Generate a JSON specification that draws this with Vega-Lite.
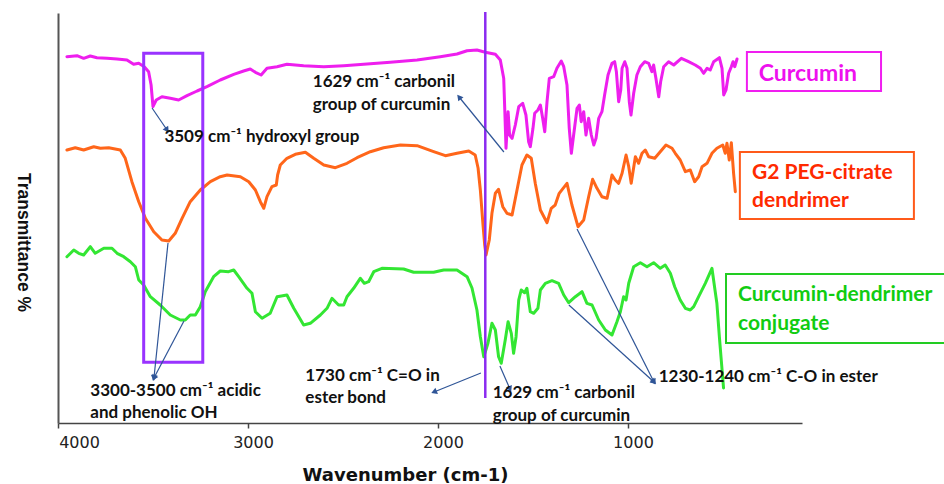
{
  "$schema": "https://vega.github.io/schema/vega-lite/v6.json",
  "autosize": {"type": "none"},
  "padding": {"left": 58, "top": 13, "right": 142, "bottom": 61},
  "width": 744,
  "height": 410,
  "background": "white",
  "config": {"view": {"stroke": null}},
  "datasets": {
    "spectra": [
      {"series": "Curcumin", "x": 3953, "y": 366.3}, {"series": "Curcumin", "x": 3900, "y": 367.3}, {"series": "Curcumin", "x": 3865, "y": 364.7}, {"series": "Curcumin", "x": 3830, "y": 367}, {"series": "Curcumin", "x": 3795, "y": 365.3}, {"series": "Curcumin", "x": 3742, "y": 364.7}, {"series": "Curcumin", "x": 3689, "y": 364}, {"series": "Curcumin", "x": 3637, "y": 363}, {"series": "Curcumin", "x": 3602, "y": 358.7}, {"series": "Curcumin", "x": 3575, "y": 359.7}, {"series": "Curcumin", "x": 3546, "y": 356.3}, {"series": "Curcumin", "x": 3523, "y": 351.3}, {"series": "Curcumin", "x": 3510, "y": 338}, {"series": "Curcumin", "x": 3500, "y": 316.3}, {"series": "Curcumin", "x": 3483, "y": 323}, {"series": "Curcumin", "x": 3453, "y": 326.3}, {"series": "Curcumin", "x": 3409, "y": 324.7}, {"series": "Curcumin", "x": 3365, "y": 323}, {"series": "Curcumin", "x": 3321, "y": 327.3}, {"series": "Curcumin", "x": 3268, "y": 332}, {"series": "Curcumin", "x": 3216, "y": 336.3}, {"series": "Curcumin", "x": 3146, "y": 343}, {"series": "Curcumin", "x": 3075, "y": 348.7}, {"series": "Curcumin", "x": 3023, "y": 352}, {"series": "Curcumin", "x": 2988, "y": 354}, {"series": "Curcumin", "x": 2961, "y": 350.7}, {"series": "Curcumin", "x": 2931, "y": 348}, {"series": "Curcumin", "x": 2900, "y": 354.7}, {"series": "Curcumin", "x": 2847, "y": 356.3}, {"series": "Curcumin", "x": 2795, "y": 358.7}, {"series": "Curcumin", "x": 2707, "y": 357.3}, {"series": "Curcumin", "x": 2601, "y": 356.3}, {"series": "Curcumin", "x": 2496, "y": 357.3}, {"series": "Curcumin", "x": 2391, "y": 358.7}, {"series": "Curcumin", "x": 2251, "y": 360.7}, {"series": "Curcumin", "x": 2110, "y": 363}, {"series": "Curcumin", "x": 1988, "y": 366.3}, {"series": "Curcumin", "x": 1900, "y": 369}, {"series": "Curcumin", "x": 1847, "y": 372.3}, {"series": "Curcumin", "x": 1795, "y": 373}, {"series": "Curcumin", "x": 1751, "y": 370.7}, {"series": "Curcumin", "x": 1698, "y": 368.7}, {"series": "Curcumin", "x": 1672, "y": 363}, {"series": "Curcumin", "x": 1654, "y": 344.7}, {"series": "Curcumin", "x": 1647, "y": 304.7}, {"series": "Curcumin", "x": 1642, "y": 274.7}, {"series": "Curcumin", "x": 1631, "y": 311.3}, {"series": "Curcumin", "x": 1623, "y": 288}, {"series": "Curcumin", "x": 1610, "y": 284.7}, {"series": "Curcumin", "x": 1593, "y": 298}, {"series": "Curcumin", "x": 1575, "y": 316.3}, {"series": "Curcumin", "x": 1554, "y": 319.7}, {"series": "Curcumin", "x": 1537, "y": 308}, {"series": "Curcumin", "x": 1523, "y": 281.3}, {"series": "Curcumin", "x": 1514, "y": 276.3}, {"series": "Curcumin", "x": 1500, "y": 294.7}, {"series": "Curcumin", "x": 1491, "y": 309.7}, {"series": "Curcumin", "x": 1474, "y": 313}, {"series": "Curcumin", "x": 1461, "y": 318}, {"series": "Curcumin", "x": 1449, "y": 304.7}, {"series": "Curcumin", "x": 1438, "y": 291.3}, {"series": "Curcumin", "x": 1426, "y": 321.3}, {"series": "Curcumin", "x": 1414, "y": 344.7}, {"series": "Curcumin", "x": 1391, "y": 346.3}, {"series": "Curcumin", "x": 1374, "y": 354.7}, {"series": "Curcumin", "x": 1351, "y": 362}, {"series": "Curcumin", "x": 1338, "y": 356.3}, {"series": "Curcumin", "x": 1321, "y": 338}, {"series": "Curcumin", "x": 1309, "y": 294.7}, {"series": "Curcumin", "x": 1298, "y": 269.7}, {"series": "Curcumin", "x": 1286, "y": 288}, {"series": "Curcumin", "x": 1268, "y": 314.7}, {"series": "Curcumin", "x": 1256, "y": 318}, {"series": "Curcumin", "x": 1246, "y": 301.3}, {"series": "Curcumin", "x": 1233, "y": 311.3}, {"series": "Curcumin", "x": 1221, "y": 288}, {"series": "Curcumin", "x": 1207, "y": 304.7}, {"series": "Curcumin", "x": 1193, "y": 288}, {"series": "Curcumin", "x": 1180, "y": 278}, {"series": "Curcumin", "x": 1168, "y": 284.7}, {"series": "Curcumin", "x": 1154, "y": 304.7}, {"series": "Curcumin", "x": 1137, "y": 311.3}, {"series": "Curcumin", "x": 1123, "y": 328}, {"series": "Curcumin", "x": 1105, "y": 348}, {"series": "Curcumin", "x": 1084, "y": 359.7}, {"series": "Curcumin", "x": 1070, "y": 361.3}, {"series": "Curcumin", "x": 1061, "y": 351.3}, {"series": "Curcumin", "x": 1049, "y": 321.3}, {"series": "Curcumin", "x": 1038, "y": 333}, {"series": "Curcumin", "x": 1031, "y": 354.7}, {"series": "Curcumin", "x": 1017, "y": 361.3}, {"series": "Curcumin", "x": 1005, "y": 354.7}, {"series": "Curcumin", "x": 993, "y": 321.3}, {"series": "Curcumin", "x": 984, "y": 308}, {"series": "Curcumin", "x": 970, "y": 329.7}, {"series": "Curcumin", "x": 953, "y": 348}, {"series": "Curcumin", "x": 935, "y": 356.3}, {"series": "Curcumin", "x": 912, "y": 361.3}, {"series": "Curcumin", "x": 891, "y": 359.7}, {"series": "Curcumin", "x": 874, "y": 351.3}, {"series": "Curcumin", "x": 865, "y": 358}, {"series": "Curcumin", "x": 853, "y": 344.7}, {"series": "Curcumin", "x": 838, "y": 326.3}, {"series": "Curcumin", "x": 828, "y": 341.3}, {"series": "Curcumin", "x": 812, "y": 356.3}, {"series": "Curcumin", "x": 786, "y": 361.3}, {"series": "Curcumin", "x": 759, "y": 358}, {"series": "Curcumin", "x": 719, "y": 364.7}, {"series": "Curcumin", "x": 681, "y": 361.3}, {"series": "Curcumin", "x": 646, "y": 358}, {"series": "Curcumin", "x": 619, "y": 354.7}, {"series": "Curcumin", "x": 602, "y": 349.7}, {"series": "Curcumin", "x": 584, "y": 354.7}, {"series": "Curcumin", "x": 567, "y": 353}, {"series": "Curcumin", "x": 549, "y": 361.3}, {"series": "Curcumin", "x": 519, "y": 365.3}, {"series": "Curcumin", "x": 505, "y": 354.7}, {"series": "Curcumin", "x": 496, "y": 328}, {"series": "Curcumin", "x": 484, "y": 333}, {"series": "Curcumin", "x": 470, "y": 349.7}, {"series": "Curcumin", "x": 456, "y": 356.3}, {"series": "Curcumin", "x": 447, "y": 361.3}, {"series": "Curcumin", "x": 438, "y": 356.3}, {"series": "Curcumin", "x": 426, "y": 364},
      {"series": "G2", "x": 3953, "y": 273}, {"series": "G2", "x": 3909, "y": 275.3}, {"series": "G2", "x": 3865, "y": 273}, {"series": "G2", "x": 3812, "y": 276.3}, {"series": "G2", "x": 3777, "y": 274.7}, {"series": "G2", "x": 3733, "y": 275.3}, {"series": "G2", "x": 3672, "y": 273}, {"series": "G2", "x": 3646, "y": 264.7}, {"series": "G2", "x": 3611, "y": 241.3}, {"series": "G2", "x": 3575, "y": 221.3}, {"series": "G2", "x": 3540, "y": 204.7}, {"series": "G2", "x": 3496, "y": 191.3}, {"series": "G2", "x": 3453, "y": 183}, {"series": "G2", "x": 3417, "y": 182}, {"series": "G2", "x": 3383, "y": 189.7}, {"series": "G2", "x": 3347, "y": 204.7}, {"series": "G2", "x": 3304, "y": 221.3}, {"series": "G2", "x": 3251, "y": 233}, {"series": "G2", "x": 3198, "y": 241.3}, {"series": "G2", "x": 3146, "y": 246.3}, {"series": "G2", "x": 3110, "y": 248}, {"series": "G2", "x": 3040, "y": 246.3}, {"series": "G2", "x": 2996, "y": 241.3}, {"series": "G2", "x": 2961, "y": 233}, {"series": "G2", "x": 2935, "y": 221.3}, {"series": "G2", "x": 2917, "y": 214.7}, {"series": "G2", "x": 2900, "y": 226.3}, {"series": "G2", "x": 2874, "y": 236.3}, {"series": "G2", "x": 2851, "y": 238}, {"series": "G2", "x": 2844, "y": 248}, {"series": "G2", "x": 2830, "y": 258}, {"series": "G2", "x": 2795, "y": 264.7}, {"series": "G2", "x": 2751, "y": 268.7}, {"series": "G2", "x": 2698, "y": 270.7}, {"series": "G2", "x": 2654, "y": 264.7}, {"series": "G2", "x": 2601, "y": 258}, {"series": "G2", "x": 2540, "y": 255.3}, {"series": "G2", "x": 2479, "y": 259.7}, {"series": "G2", "x": 2426, "y": 265.3}, {"series": "G2", "x": 2356, "y": 271.3}, {"series": "G2", "x": 2286, "y": 275.3}, {"series": "G2", "x": 2198, "y": 278}, {"series": "G2", "x": 2110, "y": 277.3}, {"series": "G2", "x": 2023, "y": 271.3}, {"series": "G2", "x": 1961, "y": 267.3}, {"series": "G2", "x": 1900, "y": 269.7}, {"series": "G2", "x": 1838, "y": 272}, {"series": "G2", "x": 1804, "y": 268}, {"series": "G2", "x": 1789, "y": 255}, {"series": "G2", "x": 1777, "y": 233}, {"series": "G2", "x": 1763, "y": 198}, {"series": "G2", "x": 1754, "y": 178}, {"series": "G2", "x": 1747, "y": 168}, {"series": "G2", "x": 1730, "y": 183}, {"series": "G2", "x": 1716, "y": 209.7}, {"series": "G2", "x": 1698, "y": 229.7}, {"series": "G2", "x": 1681, "y": 233.7}, {"series": "G2", "x": 1659, "y": 216.3}, {"series": "G2", "x": 1637, "y": 209.7}, {"series": "G2", "x": 1610, "y": 208}, {"series": "G2", "x": 1584, "y": 233}, {"series": "G2", "x": 1558, "y": 258}, {"series": "G2", "x": 1532, "y": 268}, {"series": "G2", "x": 1509, "y": 264.7}, {"series": "G2", "x": 1488, "y": 239.7}, {"series": "G2", "x": 1461, "y": 213}, {"series": "G2", "x": 1426, "y": 200.3}, {"series": "G2", "x": 1404, "y": 214.7}, {"series": "G2", "x": 1383, "y": 218}, {"series": "G2", "x": 1362, "y": 229.7}, {"series": "G2", "x": 1321, "y": 239.7}, {"series": "G2", "x": 1295, "y": 218}, {"series": "G2", "x": 1263, "y": 196.3}, {"series": "G2", "x": 1233, "y": 203}, {"series": "G2", "x": 1207, "y": 226.3}, {"series": "G2", "x": 1186, "y": 243.7}, {"series": "G2", "x": 1163, "y": 234.7}, {"series": "G2", "x": 1137, "y": 226.3}, {"series": "G2", "x": 1110, "y": 224.7}, {"series": "G2", "x": 1084, "y": 248}, {"series": "G2", "x": 1067, "y": 243}, {"series": "G2", "x": 1049, "y": 239.7}, {"series": "G2", "x": 1031, "y": 249.7}, {"series": "G2", "x": 1010, "y": 268}, {"series": "G2", "x": 996, "y": 256.3}, {"series": "G2", "x": 983, "y": 239.7}, {"series": "G2", "x": 961, "y": 266.3}, {"series": "G2", "x": 944, "y": 259.7}, {"series": "G2", "x": 926, "y": 269.7}, {"series": "G2", "x": 909, "y": 273}, {"series": "G2", "x": 891, "y": 266.3}, {"series": "G2", "x": 859, "y": 264.7}, {"series": "G2", "x": 830, "y": 271.3}, {"series": "G2", "x": 800, "y": 278}, {"series": "G2", "x": 768, "y": 274.7}, {"series": "G2", "x": 751, "y": 269.7}, {"series": "G2", "x": 725, "y": 263}, {"series": "G2", "x": 698, "y": 251.3}, {"series": "G2", "x": 672, "y": 253}, {"series": "G2", "x": 649, "y": 241.3}, {"series": "G2", "x": 628, "y": 246.3}, {"series": "G2", "x": 610, "y": 256.3}, {"series": "G2", "x": 584, "y": 259.7}, {"series": "G2", "x": 558, "y": 269.7}, {"series": "G2", "x": 532, "y": 274.7}, {"series": "G2", "x": 501, "y": 278}, {"series": "G2", "x": 488, "y": 269.7}, {"series": "G2", "x": 479, "y": 279.7}, {"series": "G2", "x": 467, "y": 263}, {"series": "G2", "x": 456, "y": 280.3}, {"series": "G2", "x": 444, "y": 249.7}, {"series": "G2", "x": 435, "y": 231.3},
      {"series": "Conjugate", "x": 3953, "y": 166.3}, {"series": "Conjugate", "x": 3917, "y": 173}, {"series": "Conjugate", "x": 3891, "y": 169.7}, {"series": "Conjugate", "x": 3865, "y": 168}, {"series": "Conjugate", "x": 3830, "y": 176.3}, {"series": "Conjugate", "x": 3804, "y": 169.7}, {"series": "Conjugate", "x": 3759, "y": 174.7}, {"series": "Conjugate", "x": 3716, "y": 174.7}, {"series": "Conjugate", "x": 3689, "y": 169.7}, {"series": "Conjugate", "x": 3654, "y": 166.3}, {"series": "Conjugate", "x": 3619, "y": 161.3}, {"series": "Conjugate", "x": 3593, "y": 156.3}, {"series": "Conjugate", "x": 3575, "y": 143}, {"series": "Conjugate", "x": 3549, "y": 138}, {"series": "Conjugate", "x": 3514, "y": 126.3}, {"series": "Conjugate", "x": 3462, "y": 118}, {"series": "Conjugate", "x": 3409, "y": 108}, {"series": "Conjugate", "x": 3356, "y": 103}, {"series": "Conjugate", "x": 3330, "y": 103}, {"series": "Conjugate", "x": 3304, "y": 108}, {"series": "Conjugate", "x": 3277, "y": 108}, {"series": "Conjugate", "x": 3251, "y": 116.3}, {"series": "Conjugate", "x": 3225, "y": 131.3}, {"series": "Conjugate", "x": 3181, "y": 146.3}, {"series": "Conjugate", "x": 3146, "y": 152}, {"series": "Conjugate", "x": 3102, "y": 151.3}, {"series": "Conjugate", "x": 3075, "y": 153}, {"series": "Conjugate", "x": 3049, "y": 146.3}, {"series": "Conjugate", "x": 3005, "y": 134.7}, {"series": "Conjugate", "x": 2979, "y": 129.7}, {"series": "Conjugate", "x": 2961, "y": 111.3}, {"series": "Conjugate", "x": 2926, "y": 104.7}, {"series": "Conjugate", "x": 2883, "y": 109.7}, {"series": "Conjugate", "x": 2847, "y": 126.3}, {"series": "Conjugate", "x": 2795, "y": 128}, {"series": "Conjugate", "x": 2759, "y": 114.7}, {"series": "Conjugate", "x": 2707, "y": 98}, {"series": "Conjugate", "x": 2672, "y": 99.7}, {"series": "Conjugate", "x": 2619, "y": 108}, {"series": "Conjugate", "x": 2584, "y": 114.7}, {"series": "Conjugate", "x": 2558, "y": 124.7}, {"series": "Conjugate", "x": 2523, "y": 118}, {"series": "Conjugate", "x": 2496, "y": 118}, {"series": "Conjugate", "x": 2479, "y": 126.3}, {"series": "Conjugate", "x": 2444, "y": 134.7}, {"series": "Conjugate", "x": 2409, "y": 144.7}, {"series": "Conjugate", "x": 2388, "y": 139.7}, {"series": "Conjugate", "x": 2365, "y": 141.3}, {"series": "Conjugate", "x": 2338, "y": 151.3}, {"series": "Conjugate", "x": 2295, "y": 154.7}, {"series": "Conjugate", "x": 2181, "y": 154}, {"series": "Conjugate", "x": 2128, "y": 150.7}, {"series": "Conjugate", "x": 2023, "y": 150.7}, {"series": "Conjugate", "x": 1970, "y": 153}, {"series": "Conjugate", "x": 1900, "y": 153}, {"series": "Conjugate", "x": 1847, "y": 146.3}, {"series": "Conjugate", "x": 1821, "y": 135}, {"series": "Conjugate", "x": 1795, "y": 113}, {"series": "Conjugate", "x": 1777, "y": 86.3}, {"series": "Conjugate", "x": 1759, "y": 66.3}, {"series": "Conjugate", "x": 1737, "y": 79.7}, {"series": "Conjugate", "x": 1716, "y": 99.7}, {"series": "Conjugate", "x": 1698, "y": 93}, {"series": "Conjugate", "x": 1681, "y": 66.3}, {"series": "Conjugate", "x": 1667, "y": 59.7}, {"series": "Conjugate", "x": 1646, "y": 83}, {"series": "Conjugate", "x": 1631, "y": 101.3}, {"series": "Conjugate", "x": 1614, "y": 89.7}, {"series": "Conjugate", "x": 1602, "y": 69.7}, {"series": "Conjugate", "x": 1589, "y": 86.3}, {"series": "Conjugate", "x": 1575, "y": 123}, {"series": "Conjugate", "x": 1562, "y": 133}, {"series": "Conjugate", "x": 1544, "y": 130.3}, {"series": "Conjugate", "x": 1532, "y": 134.7}, {"series": "Conjugate", "x": 1514, "y": 111.3}, {"series": "Conjugate", "x": 1496, "y": 109.7}, {"series": "Conjugate", "x": 1474, "y": 114.7}, {"series": "Conjugate", "x": 1461, "y": 133}, {"series": "Conjugate", "x": 1435, "y": 139.7}, {"series": "Conjugate", "x": 1400, "y": 142.3}, {"series": "Conjugate", "x": 1365, "y": 139.7}, {"series": "Conjugate", "x": 1338, "y": 128}, {"series": "Conjugate", "x": 1312, "y": 120.3}, {"series": "Conjugate", "x": 1277, "y": 126.3}, {"series": "Conjugate", "x": 1242, "y": 131.3}, {"series": "Conjugate", "x": 1216, "y": 119.7}, {"series": "Conjugate", "x": 1189, "y": 118}, {"series": "Conjugate", "x": 1154, "y": 103}, {"series": "Conjugate", "x": 1119, "y": 93}, {"series": "Conjugate", "x": 1084, "y": 88}, {"series": "Conjugate", "x": 1058, "y": 101.3}, {"series": "Conjugate", "x": 1040, "y": 111.3}, {"series": "Conjugate", "x": 1023, "y": 126.3}, {"series": "Conjugate", "x": 1010, "y": 123}, {"series": "Conjugate", "x": 996, "y": 139.7}, {"series": "Conjugate", "x": 970, "y": 156.3}, {"series": "Conjugate", "x": 935, "y": 160.3}, {"series": "Conjugate", "x": 900, "y": 156.3}, {"series": "Conjugate", "x": 865, "y": 160.3}, {"series": "Conjugate", "x": 830, "y": 154.7}, {"series": "Conjugate", "x": 804, "y": 158}, {"series": "Conjugate", "x": 777, "y": 149.7}, {"series": "Conjugate", "x": 754, "y": 136.3}, {"series": "Conjugate", "x": 725, "y": 123}, {"series": "Conjugate", "x": 698, "y": 114.7}, {"series": "Conjugate", "x": 672, "y": 113}, {"series": "Conjugate", "x": 654, "y": 116.3}, {"series": "Conjugate", "x": 628, "y": 126.3}, {"series": "Conjugate", "x": 593, "y": 139.7}, {"series": "Conjugate", "x": 558, "y": 154.7}, {"series": "Conjugate", "x": 537, "y": 126.3}, {"series": "Conjugate", "x": 532, "y": 119.7}, {"series": "Conjugate", "x": 519, "y": 86.3}, {"series": "Conjugate", "x": 509, "y": 63}, {"series": "Conjugate", "x": 501, "y": 44.7}, {"series": "Conjugate", "x": 497, "y": 35}
    ],
    "region": [{"x": 3549, "x2": 3238, "y": 369.7, "y2": 60.7}],
    "marker": [{"x": 1751, "y": 25, "y2": 411}],
    "arrows": [
      {"x": 3426, "y": 293, "x2": 3505, "y2": 315},
      {"x": 1889, "y": 326, "x2": 1653, "y2": 271},
      {"x": 3495, "y": 45, "x2": 3421, "y2": 180},
      {"x": 3495, "y": 45, "x2": 3337, "y2": 102},
      {"x": 2021, "y": 31, "x2": 1774, "y2": 50},
      {"x": 1621, "y": 34, "x2": 1674, "y2": 57},
      {"x": 863, "y": 41, "x2": 1268, "y2": 194},
      {"x": 863, "y": 41, "x2": 1311, "y2": 118}
    ],
    "notes": [
      {"x": 3440, "y": 286.3, "text": "3509 cm⁻¹ hydroxyl group"},
      {"x": 2659, "y": 341, "text": "1629 cm⁻¹ carbonil"},
      {"x": 2659, "y": 318, "text": "group of curcumin"},
      {"x": 3830, "y": 32, "text": "3300-3500 cm⁻¹ acidic"},
      {"x": 3830, "y": 9.7, "text": "and phenolic OH"},
      {"x": 2698, "y": 47.3, "text": "1730 cm⁻¹ C=O in"},
      {"x": 2698, "y": 24.7, "text": "ester bond"},
      {"x": 1712, "y": 29.7, "text": "1629 cm⁻¹ carbonil"},
      {"x": 1712, "y": 7.3, "text": "group of curcumin"},
      {"x": 838, "y": 46.3, "text": "1230-1240 cm⁻¹ C-O in ester"}
    ],
    "keyBoxes": [
      {"series": "Curcumin", "x": 374, "x2": -332, "y": 371, "y2": 332},
      {"series": "G2", "x": 411, "x2": -505, "y": 271, "y2": 204},
      {"series": "Conjugate", "x": 484, "x2": -720, "y": 149, "y2": 80}
    ],
    "keyText": [
      {"series": "Curcumin", "x": 312, "y": 349, "text": "Curcumin"},
      {"series": "G2", "x": 347, "y": 250.3, "text": "G2 PEG-citrate"},
      {"series": "G2", "x": 347, "y": 222, "text": "dendrimer"},
      {"series": "Conjugate", "x": 421, "y": 128, "text": "Curcumin-dendrimer"},
      {"series": "Conjugate", "x": 421, "y": 99, "text": "conjugate"}
    ]
  },
  "encoding": {
    "x": {
      "field": "x", "type": "quantitative",
      "scale": {"domain": [84, 4000], "reverse": true, "nice": false, "zero": false},
      "axis": {
        "title": "Wavenumber (cm-1)", "values": [4000, 3000, 2000, 1000], "format": "d",
        "grid": false, "domainColor": "#444", "domainWidth": 1.5,
        "tickColor": "#444", "tickSize": 5, "tickWidth": 1.5,
        "labelFont": "DejaVu Sans", "labelFontSize": 16, "labelColor": "#222",
        "labelPadding": 6, "labelFlush": false, "labelOverlap": false,
        "labelOffset": {"condition": {"test": "datum.value == 4000", "value": 21}, "value": 5},
        "titleFont": "DejaVu Sans", "titleFontSize": 18, "titleFontWeight": "bold", "titleColor": "#111",
        "titleX": 347, "titleY": 52, "titleAlign": "center", "titleBaseline": "middle"
      }
    },
    "y": {
      "field": "y", "type": "quantitative",
      "scale": {"domain": [0, 410], "nice": false, "zero": false},
      "axis": {
        "title": "Transmittance %", "labels": false, "ticks": false, "grid": false,
        "domainColor": "#555", "domainWidth": 2,
        "titleAngle": 90, "titleFont": "Liberation Sans", "titleFontSize": 17.5, "titleFontWeight": "bold", "titleColor": "#111",
        "titleX": -36, "titleY": 229, "titleAlign": "center", "titleBaseline": "middle"
      }
    }
  },
  "layer": [
    {
      "data": {"name": "spectra"},
      "mark": {"type": "line", "strokeWidth": 3, "strokeJoin": "round", "strokeCap": "round"},
      "encoding": {
        "color": {"field": "series", "type": "nominal",
          "scale": {"domain": ["Curcumin", "G2", "Conjugate"], "range": ["#EE1EEE", "#FF661A", "#33E633"]},
          "legend": null}
      }
    },
    {
      "data": {"name": "region"},
      "mark": {"type": "rect", "filled": false, "color": "#9933FF", "stroke": "#9933FF", "strokeWidth": 3},
      "encoding": {"x2": {"field": "x2"}, "y2": {"field": "y2"}}
    },
    {
      "data": {"name": "marker"},
      "mark": {"type": "rule", "color": "#8B2BF0", "strokeWidth": 2.5},
      "encoding": {"y2": {"field": "y2"}}
    },
    {
      "data": {"name": "arrows"},
      "mark": {"type": "rule", "color": "#2F5597", "strokeWidth": 1.2},
      "encoding": {"x2": {"field": "x2"}, "y2": {"field": "y2"}}
    },
    {
      "data": {"name": "arrows"},
      "transform": [{"calculate": "atan2(-(datum.x - datum.x2) * 0.19, datum.y - datum.y2) * 180 / PI", "as": "ang"}],
      "mark": {"type": "point", "shape": "triangle-up", "filled": true, "color": "#2F5597", "size": 45, "opacity": 1},
      "encoding": {"angle": {"field": "ang", "type": "quantitative", "scale": null}}
    },
    {
      "data": {"name": "notes"},
      "mark": {"type": "text", "align": "left", "baseline": "middle", "font": "Lato", "fontSize": 17, "fontWeight": "bold", "color": "#111"},
      "encoding": {"text": {"field": "text"}}
    },
    {
      "data": {"name": "keyBoxes"},
      "mark": {"type": "rect", "filled": false, "strokeWidth": 2},
      "encoding": {
        "x2": {"field": "x2"}, "y2": {"field": "y2"},
        "stroke": {"field": "series", "type": "nominal",
          "scale": {"domain": ["Curcumin", "G2", "Conjugate"], "range": ["#F01EF0", "#FF5A1A", "#22CC22"]},
          "legend": null}
      }
    },
    {
      "data": {"name": "keyText"},
      "transform": [{"filter": "datum.series == 'Curcumin'"}],
      "mark": {"type": "text", "align": "left", "baseline": "middle", "font": "Lato", "fontSize": 23, "fontWeight": "bold"},
      "encoding": {
        "text": {"field": "text"},
        "fill": {"field": "series", "type": "nominal",
          "scale": {"domain": ["Curcumin", "G2", "Conjugate"], "range": ["#EE10EE", "#FF2A00", "#11CC11"]},
          "legend": null}
      }
    },
    {
      "data": {"name": "keyText"},
      "transform": [{"filter": "datum.series != 'Curcumin'"}],
      "mark": {"type": "text", "align": "left", "baseline": "middle", "font": "Lato", "fontSize": 21, "fontWeight": "bold"},
      "encoding": {
        "text": {"field": "text"},
        "fill": {"field": "series", "type": "nominal",
          "scale": {"domain": ["Curcumin", "G2", "Conjugate"], "range": ["#EE10EE", "#FF2A00", "#11CC11"]},
          "legend": null}
      }
    }
  ]
}
